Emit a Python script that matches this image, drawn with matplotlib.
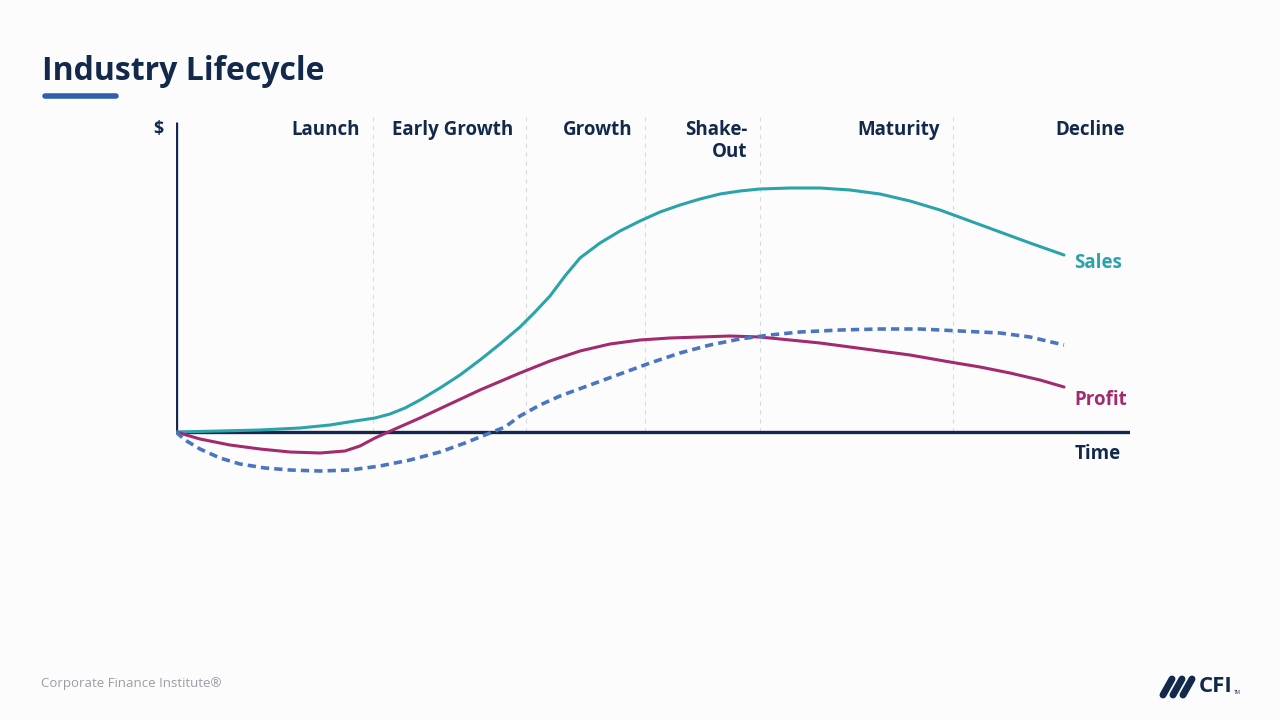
import matplotlib.pyplot as plt
import numpy as np

# curve data (time units, $ units; 0 = x-axis)
sales_t = [0, 44, 84, 124, 154, 179, 199, 214, 229, 244, 264, 284, 304, 324, 344, 359, 374, 389, 404,
           424, 444, 464, 484, 504, 524, 544, 564, 584, 614, 644, 674, 704, 734, 764, 794, 824, 854, 888]
sales_y = [0, 1, 2, 4, 7, 11, 14, 18, 24, 32, 44, 57, 72, 88, 105, 120, 136, 156, 174,
           189, 201, 211, 220, 227, 233, 238, 241, 243, 244, 244, 242, 238, 231, 222, 211, 200, 189, 177]

profit_t = [0, 24, 54, 84, 114, 144, 169, 184, 199, 219, 244, 274, 304, 344, 374, 404, 434, 464, 494,
            524, 554, 584, 614, 644, 674, 704, 734, 774, 804, 834, 864, 888]
profit_y = [0, -7, -13, -17, -20, -21, -19, -14, -6, 3, 14, 28, 42, 59, 71, 81, 88, 92, 94,
            95, 96, 95, 92, 89, 85, 81, 77, 70, 65, 59, 52, 45]

cash_t = [0, 9, 24, 44, 64, 89, 114, 144, 174, 204, 234, 264, 289, 314, 329, 344, 364, 384, 414,
          444, 474, 504, 534, 564, 594, 624, 664, 704, 744, 784, 824, 854, 888]
cash_y = [0, -8, -17, -26, -32, -36, -38, -39, -38, -34, -28, -20, -11, -1, 5, 16, 27, 36, 47,
          58, 69, 79, 87, 93, 97, 100, 102, 103, 103, 101, 99, 95, 87]

stage_names = ['Launch', 'Early Growth', 'Growth', 'Shake-\nOut', 'Maturity', 'Decline']
stage_ends = [197, 350, 469, 584, 777, 962]

navy = '#13294b'
teal = '#2aa3ab'
magenta = '#a32a6e'
blue = '#4a76c0'
bg = '#fcfcfc'

plt.rcParams['font.family'] = ['Open Sans', 'DejaVu Sans']

fig = plt.figure(figsize=(12.8, 7.2), dpi=100, facecolor=bg)
ax = fig.add_axes([176 / 1280, 240 / 720, 954 / 1280, 358 / 720])
ax.set_facecolor(bg)
ax.set_xlim(0, 954)
ax.set_ylim(-48, 310)
ax.axis('off')

# stage dividers
for x in stage_ends[:-1]:
    ax.plot([x, x], [0, 315], color='#d8dadd', lw=0.8, ls=(0, (4, 4)), zorder=1, clip_on=False)

# axes lines
ax.plot([0, 954], [0, 0], color=navy, lw=2.4, zorder=3, solid_capstyle='butt')
ax.plot([0, 0], [0, 310], color=navy, lw=2.4, zorder=3, solid_capstyle='butt')

# curves
ax.plot(sales_t, sales_y, color=teal, lw=2.2, zorder=4, solid_capstyle='round', solid_joinstyle='round')
ax.plot(profit_t, profit_y, color=magenta, lw=2.2, zorder=4, solid_capstyle='round', solid_joinstyle='round')
ax.plot(cash_t, cash_y, color=blue, lw=2.6, ls=(0, (2.3, 1.4)), zorder=4)

# stage labels, right aligned before each divider
for name, x in zip(stage_names, stage_ends):
    ax.text(x - 13, 312, name, ha='right', va='top', fontsize=13.5, fontweight='bold',
            color=navy, linespacing=1.15, multialignment='right')

ax.text(-18, 303, '$', ha='center', va='center', fontsize=13, fontweight='bold', color=navy)
ax.text(898, 169, 'Sales', ha='left', va='center', fontsize=13.5, fontweight='bold', color=teal)
ax.text(898, 32, 'Profit', ha='left', va='center', fontsize=13.5, fontweight='bold', color=magenta)
ax.text(899, -22, 'Time', ha='left', va='center', fontsize=13.5, fontweight='bold', color=navy)

# title and underline
fig.text(42 / 1280, 1 - 71 / 720, 'Industry Lifecycle', ha='left', va='center',
         fontsize=23, fontweight='bold', color=navy)
fig.add_artist(plt.Line2D([45 / 1280, 116 / 1280], [1 - 96 / 720] * 2, color='#2f5fae',
                          lw=4, solid_capstyle='round'))

# footer
fig.text(41 / 1280, 1 - 684 / 720, 'Corporate Finance Institute®', ha='left', va='center',
         fontsize=9.5, color='#9a9ea3')

# CFI logo
for dx in [0, 10, 20]:
    x0 = (1163 + dx) / 1280
    fig.add_artist(plt.Line2D([x0, x0 + 9 / 1280], [1 - 695 / 720, 1 - 679 / 720], color=navy,
                              lw=5, solid_capstyle='round'))
fig.text(1199 / 1280, 1 - 687 / 720, 'CFI', ha='left', va='center', fontsize=16,
         fontweight='bold', color=navy)
fig.text(1234 / 1280, 1 - 692 / 720, 'TM', ha='left', va='center', fontsize=3.5, color=navy)

fig.savefig('out.png', dpi=100, facecolor=bg)
